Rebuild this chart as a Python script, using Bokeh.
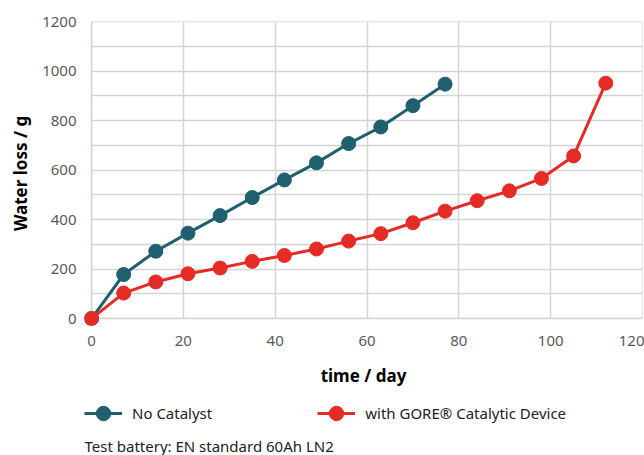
from bokeh.plotting import figure
from bokeh.models import Range1d, SingleIntervalTicker, Legend, LegendItem, Label, BoxAnnotation
from bokeh.layouts import column
from bokeh.embed import file_html
from bokeh.resources import INLINE

days_no_catalyst = [0, 7, 14, 21, 28, 35, 42, 49, 56, 63, 70, 77]
water_no_catalyst = [0, 178, 272, 345, 416, 489, 560, 629, 707, 774, 860, 947]
days_gore = [0, 7, 14, 21, 28, 35, 42, 49, 56, 63, 70, 77, 84, 91, 98, 105, 112]
water_gore = [0, 103, 148, 181, 204, 231, 255, 281, 313, 343, 387, 434, 476, 516, 566, 657, 951]

label_no = "No Catalyst"
label_gore = "with GORE\u00ae Catalytic Device"
footnote = "Test battery: EN standard 60Ah LN2"
x_title = "time / day"
y_title = "Water loss / g"

X_MAX, Y_MAX = 120, 1200

BLUE = "#1f5f6e"
RED = "#e52b25"
GRID = "#d4d4d4"
FONT = "Noto Sans"
W = 644
LEFT, RIGHT = 84, 2

p = figure(width=W, height=392, output_backend="svg", toolbar_location=None,
           x_range=Range1d(-1.53, X_MAX), y_range=Range1d(-28, Y_MAX),
           min_border_left=LEFT, min_border_right=RIGHT, min_border_top=21, min_border_bottom=67)

p.outline_line_color = None
p.background_fill_color = "white"
p.border_fill_color = "white"

p.xaxis.ticker = SingleIntervalTicker(interval=20)
p.yaxis.ticker = SingleIntervalTicker(interval=200)
p.xgrid.ticker = SingleIntervalTicker(interval=20)
p.ygrid.ticker = SingleIntervalTicker(interval=100)
p.grid.grid_line_color = GRID
p.grid.grid_line_width = 1.5

# hide grid stubs outside the 0..max area
p.add_layout(BoxAnnotation(right=0, fill_color="white", fill_alpha=1, line_color=None, level="underlay"))
p.add_layout(BoxAnnotation(top=0, fill_color="white", fill_alpha=1, line_color=None, level="underlay"))

# plot-area border (axis lines + outline)
p.line([0, 0, X_MAX, X_MAX, 0], [Y_MAX, 0, 0, Y_MAX, Y_MAX], line_color=GRID, line_width=1.5)

r1l = p.line(days_no_catalyst, water_no_catalyst, line_color=BLUE, line_width=3)
r1c = p.scatter(days_no_catalyst, water_no_catalyst, size=14, fill_color=BLUE, line_color=BLUE)
r2l = p.line(days_gore, water_gore, line_color=RED, line_width=3)
r2c = p.scatter(days_gore, water_gore, size=14, fill_color=RED, line_color=RED)

for ax in (p.xaxis, p.yaxis):
    ax.axis_line_color = None
    ax.major_tick_line_color = None
    ax.minor_tick_line_color = None
    ax.major_tick_out = 0
    ax.major_tick_in = 0
    ax.major_label_text_font = FONT
    ax.major_label_text_font_size = "15px"
    ax.major_label_text_color = "#595959"
    ax.axis_label_text_font = FONT
    ax.axis_label_text_font_size = "17px"
    ax.axis_label_text_font_style = "bold"
    ax.axis_label_text_color = "black"

p.xaxis.axis_label = x_title
p.yaxis.axis_label = y_title
p.xaxis.major_label_standoff = 6
p.xaxis.axis_label_standoff = 15
p.yaxis.major_label_standoff = 4
p.yaxis.axis_label_standoff = 7

# legend + footnote strip (its frame is aligned with the main frame: LEFT..W-RIGHT)
H2 = 63
p2 = figure(width=W, height=H2, output_backend="svg", toolbar_location=None,
            x_range=Range1d(LEFT, W - RIGHT), y_range=Range1d(0, H2),
            x_axis_location=None, y_axis_location=None,
            min_border_left=LEFT, min_border_right=RIGHT, min_border_top=0, min_border_bottom=0)
p2.grid.visible = False
p2.outline_line_color = None

nan = [float("nan")]
l1 = p2.line(nan, nan, line_color=BLUE, line_width=3)
c1 = p2.scatter(nan, nan, size=14, fill_color=BLUE, line_color=BLUE)
l2 = p2.line(nan, nan, line_color=RED, line_width=3)
c2 = p2.scatter(nan, nan, size=14, fill_color=RED, line_color=RED)

legend = Legend(items=[LegendItem(label=label_no, renderers=[l1, c1]),
                       LegendItem(label=label_gore, renderers=[l2, c2])],
                orientation="horizontal", location=(0, 24),
                spacing=105, label_standoff=10, glyph_width=38, glyph_height=36,
                label_text_font=FONT, label_text_font_size="15px", label_text_color="#222222",
                border_line_color=None, background_fill_alpha=0, padding=0, margin=0)
p2.add_layout(legend, "center")

p2.add_layout(Label(x=LEFT, y=10, text=footnote, text_font=FONT, text_font_size="15px",
                    text_color="#222222", text_baseline="middle", text_align="left"))

layout = column(p, p2, spacing=0)
open("out.html", "w").write(file_html(layout, INLINE))
